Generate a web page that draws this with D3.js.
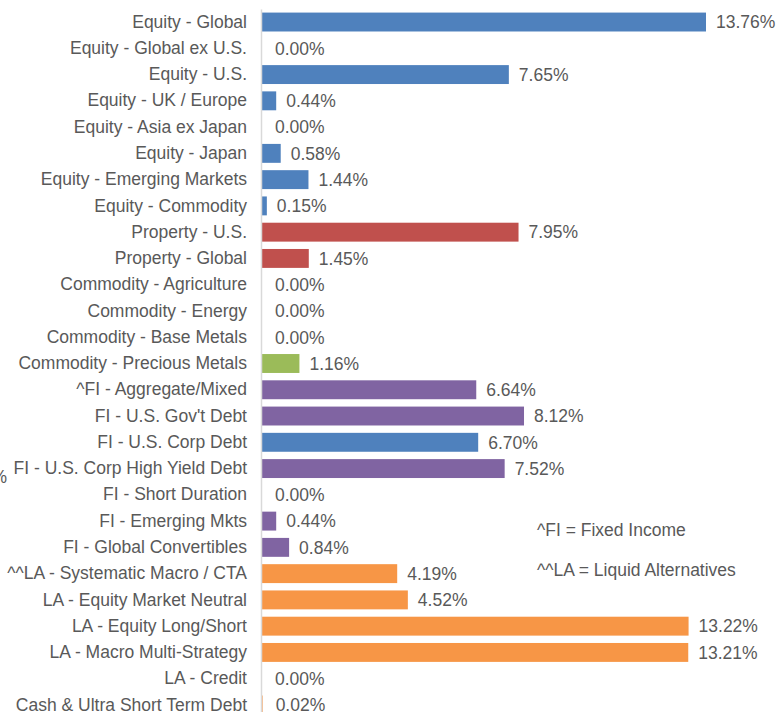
<!DOCTYPE html>
<html>
<head>
<meta charset="utf-8">
<style>
  body { margin: 0; background: #fff; }
  text { font-family: "Liberation Sans", Arial, sans-serif; fill: #595959; }
  .axis path { stroke: #d9d9d9; stroke-width: 1.5; }
</style>
<script src="https://d3js.org/d3.v7.min.js"></script>
</head>
<body>
<script>
// categories top to bottom
var categories = [
  "Equity - Global", "Equity - Global ex U.S.", "Equity - U.S.", "Equity - UK / Europe",
  "Equity - Asia ex Japan", "Equity - Japan", "Equity - Emerging Markets", "Equity - Commodity",
  "Property - U.S.", "Property - Global", "Commodity - Agriculture", "Commodity - Energy",
  "Commodity - Base Metals", "Commodity - Precious Metals", "^FI - Aggregate/Mixed",
  "FI - U.S. Gov't Debt", "FI - U.S. Corp Debt", "FI - U.S. Corp High Yield Debt",
  "FI - Short Duration", "FI - Emerging Mkts", "FI - Global Convertibles",
  "^^LA - Systematic Macro / CTA", "LA - Equity Market Neutral", "LA - Equity Long/Short",
  "LA - Macro Multi-Strategy", "LA - Credit", "Cash & Ultra Short Term Debt"
];
// weights in %
var weights = [13.76, 0.00, 7.65, 0.44, 0.00, 0.58, 1.44, 0.15, 7.95, 1.45, 0.00, 0.00,
  0.00, 1.16, 6.64, 8.12, 6.70, 7.52, 0.00, 0.44, 0.84, 4.19, 4.52, 13.22, 13.21, 0.00, 0.02];
// colour group for each bar
var colorGroup = ["eq", "eq", "eq", "eq", "eq", "eq", "eq", "eq", "prop", "prop", "comm", "comm",
  "comm", "comm", "fi", "fi", "eq", "fi", "fi", "fi", "fi", "la", "la", "la", "la", "la", "la"];
var notes = ["^FI = Fixed Income", "^^LA = Liquid Alternatives"];

var data = categories.map(function(c, i) {
  return {name: c, value: weights[i], group: colorGroup[i]};
});

var width = 779, height = 712;
var x0 = 262;
var fs = "17.5px";

var svg = d3.select("body").append("svg")
  .attr("width", width)
  .attr("height", height);

var color = d3.scaleOrdinal()
  .domain(["eq", "prop", "comm", "fi", "la"])
  .range(["#4f81bd", "#c0504d", "#9bbb59", "#8064a2", "#f79646"]);

var x = d3.scaleLinear()
  .domain([0, 13.76])
  .range([x0, 706]);

var y = d3.scaleBand()
  .domain(categories)
  .range([8.9, 718.1])
  .paddingInner(0.28)
  .paddingOuter(0.14);

// bars
svg.selectAll(".bar")
  .data(data)
  .enter()
  .append("rect")
  .attr("class", "bar")
  .attr("x", x(0))
  .attr("y", function(d) { return y(d.name); })
  .attr("width", function(d) { return x(d.value) - x(0); })
  .attr("height", y.bandwidth())
  .attr("fill", function(d) { return color(d.group); });

// value labels
svg.selectAll(".val")
  .data(data)
  .enter()
  .append("text")
  .attr("class", "val")
  .attr("x", function(d) { return x(d.value) + (d.value > 0.1 ? 10 : 13); })
  .attr("y", function(d) { return y(d.name) + y.bandwidth() / 2; })
  .attr("dy", "0.36em")
  .style("font-size", fs)
  .text(function(d) { return d.value.toFixed(2) + "%"; });

// category axis
var axis = svg.append("g")
  .attr("class", "axis")
  .attr("transform", "translate(" + (x0 - 1) + ",0)")
  .call(d3.axisLeft(y).tickSize(0).tickPadding(14));
axis.selectAll("text")
  .style("font-size", fs)
  .attr("fill", "#595959");

// stray cut-off label at the left edge
svg.append("text")
  .attr("x", 7)
  .attr("y", 483)
  .attr("text-anchor", "end")
  .style("font-size", fs)
  .text("0.00%");

// notes
svg.selectAll(".note")
  .data(notes)
  .enter()
  .append("text")
  .attr("class", "note")
  .attr("x", 537)
  .attr("y", function(d, i) { return 536 + i * 40; })
  .style("font-size", fs)
  .text(function(d) { return d; });
</script>
</body>
</html>
